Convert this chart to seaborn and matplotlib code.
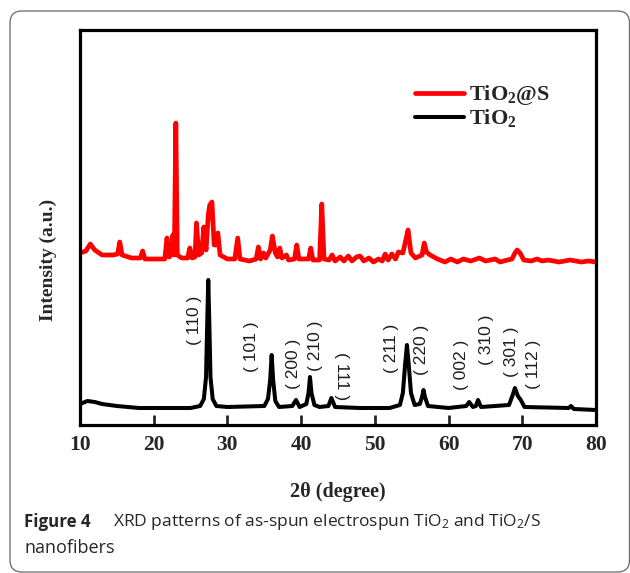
import matplotlib
matplotlib.use("Agg")
import matplotlib.pyplot as plt
from matplotlib.patches import FancyBboxPatch
from matplotlib.transforms import IdentityTransform
import pandas as pd
import seaborn as sns

# TiO2@S pattern (2theta, intensity a.u.)
ts_theta = [10.0, 10.8, 11.4, 12.0, 13.0, 14.5, 15.1, 15.4, 15.7, 17.0, 18.2, 18.5, 18.8,
            20.0, 21.5, 21.8, 22.1, 22.4, 22.6, 22.8, 23.0, 23.2, 23.8, 24.6, 24.9, 25.2,
            25.6, 25.8, 26.1, 26.5, 26.8, 27.1, 27.4, 27.6, 27.9, 28.2, 28.5, 28.7, 29.0,
            30.0, 31.0, 31.4, 31.7, 33.0, 33.9, 34.2, 34.5, 34.9, 35.2, 35.8, 36.1, 36.5,
            36.8, 37.1, 37.4, 38.0, 38.3, 39.1, 39.4, 39.7, 41.0, 41.3, 41.6, 42.5, 42.8,
            43.1, 43.8, 44.2, 44.6, 45.3, 45.8, 46.4, 46.9, 47.5, 48.0, 48.5, 49.2, 49.8,
            50.5, 51.0, 51.4, 51.8, 52.3, 52.8, 53.2, 53.8, 54.2, 54.5, 54.9, 55.5, 56.4,
            56.7, 57.0, 57.5, 58.5, 59.5, 60.3, 61.2, 62.0, 63.0, 64.2, 65.0, 66.3, 67.0,
            68.0, 68.6, 69.0, 69.3, 69.7, 70.2, 71.2, 72.0, 72.7, 73.5, 75.0, 76.5, 78.0,
            79.0, 80.0]
ts_int = [172, 174, 181, 175, 170, 170, 171, 183, 170, 167, 167, 174, 166,
          166, 166, 187, 168, 170, 190, 170, 302, 170, 167, 167, 177, 167,
          168, 202, 170, 172, 198, 175, 210, 220, 223, 180, 180, 192, 170,
          166, 166, 187, 166, 164, 166, 178, 166, 172, 167, 175, 189, 172,
          168, 177, 167, 170, 165, 166, 180, 166, 166, 177, 165, 165, 221,
          166, 165, 170, 164, 168, 164, 169, 164, 168, 169, 164, 167, 163,
          166, 164, 171, 165, 171, 166, 173, 172, 185, 195, 172, 167, 170,
          182, 173, 170, 166, 163, 166, 163, 166, 164, 167, 164, 166, 163,
          165, 166, 172, 175, 172, 165, 164, 166, 164, 165, 163, 165, 163,
          164, 163]

# TiO2 pattern
tio2_theta = [10.0, 11.0, 12.0, 13.0, 15.0, 18.0, 22.0, 25.0, 26.3, 26.8, 27.1, 27.25, 27.4,
              27.55, 27.7, 28.0, 28.5, 30.0, 35.0, 35.5, 35.8, 36.0, 36.2, 36.5, 37.0,
              38.8, 39.3, 39.8, 40.7, 41.0, 41.2, 41.4, 41.8, 42.5, 43.7, 44.1, 44.6,
              48.0, 52.0, 53.4, 53.8, 54.1, 54.35, 54.6, 54.9, 55.4, 56.1, 56.4, 56.6, 56.8,
              57.2, 60.0, 62.4, 62.8, 63.3, 63.7, 64.0, 64.4, 68.2, 68.7, 69.0, 69.4, 69.8,
              70.3, 76.3, 76.6, 77.0, 80.0]
tio2_int = [21, 24, 23, 21, 19, 17, 17, 17, 19, 26, 48, 100, 145,
            100, 48, 26, 19, 18, 19, 26, 45, 70, 45, 24, 18,
            19, 25, 18, 21, 32, 48, 32, 20, 18, 19, 27, 18,
            17, 17, 20, 32, 60, 80, 60, 32, 20, 21, 28, 35, 28,
            19, 17, 19, 23, 18, 19, 25, 18, 20, 30, 37, 29, 25,
            18, 17, 19, 16, 15]

hkl_labels = ["110", "101", "200", "210", "111", "211",
              "220", "002", "310", "301", "112"]
hkl_xy = [(25.6, 105), (33.3, 78), (38.9, 61), (42.0, 79), (45.5, 49), (52.3, 77),
          (56.3, 75), (61.8, 60), (65.2, 85), (68.6, 73), (71.5, 61)]

sns.set_style("ticks")
plt.rcParams["font.family"] = ["Liberation Serif", "DejaVu Serif"]
plt.rcParams["font.weight"] = "bold"
plt.rcParams["mathtext.default"] = "regular"

fig = plt.figure(figsize=(6.3, 5.73), dpi=100)
ax = fig.add_axes([80 / 630, 148 / 573, 516 / 630, 395 / 573])

df_ts = pd.DataFrame({"theta": ts_theta, "intensity": ts_int})
df_t = pd.DataFrame({"theta": tio2_theta, "intensity": tio2_int})
sns.lineplot(data=df_ts, x="theta", y="intensity", color="#ff0000", lw=3.4,
             sort=False, label="TiO$_2$@S", ax=ax)
sns.lineplot(data=df_t, x="theta", y="intensity", color="black", lw=2.9,
             sort=False, label="TiO$_2$", ax=ax)

for s, (x, y) in zip(hkl_labels, hkl_xy):
    rot = 270 if s == "111" else 90
    ax.text(x, y, "( %s )" % s, rotation=rot, ha="center", va="center", fontsize=12.5,
            family=["Liberation Sans", "DejaVu Sans"], weight="normal", color="#1e1e1e")

ax.set_xlim(10, 80)
ax.set_ylim(0, 395)
ax.set_xticks(range(10, 81, 10))
ax.set_yticks([])
ax.tick_params(axis="x", direction="in", length=7, width=2, labelsize=15.5, pad=7)
for sp in ax.spines.values():
    sp.set_linewidth(2.3)
    sp.set_color("black")

ax.set_xlabel("2θ (degree)", fontsize=14.5, fontweight="bold")
ax.xaxis.set_label_coords(0.5, -0.144)
ax.set_ylabel("Intensity (a.u.)", fontsize=14, fontweight="bold")
ax.yaxis.set_label_coords(-0.045, 0.418)

ax.legend(loc="upper left", bbox_to_anchor=(0.649, 0.865), frameon=False,
          prop={"family": "Liberation Serif", "weight": "bold", "size": 16},
          handlelength=2.2, handletextpad=0.25, labelspacing=0.0,
          borderpad=0, borderaxespad=0)

# caption below the plot
cap_font = ["Open Sans", "DejaVu Sans"]
fig.text(24 / 630, 0.089, "Figure 4", family=cap_font, weight="bold",
         fontsize=12.2, va="center")
fig.text(113 / 630, 0.089,
         "XRD patterns of as-spun electrospun TiO$_2$ and TiO$_2$/S",
         family=cap_font, weight="normal", fontsize=12.5, va="center")
fig.text(25 / 630, 0.044, "nanofibers", family=cap_font, weight="normal",
         fontsize=13, va="center")

frame = FancyBboxPatch((10, 1), 619.5, 561, boxstyle="round,pad=0,rounding_size=12",
                       transform=IdentityTransform(), fill=False, ec="#666666", lw=0.9)
fig.patches.append(frame)

fig.savefig("out.png", dpi=100)
